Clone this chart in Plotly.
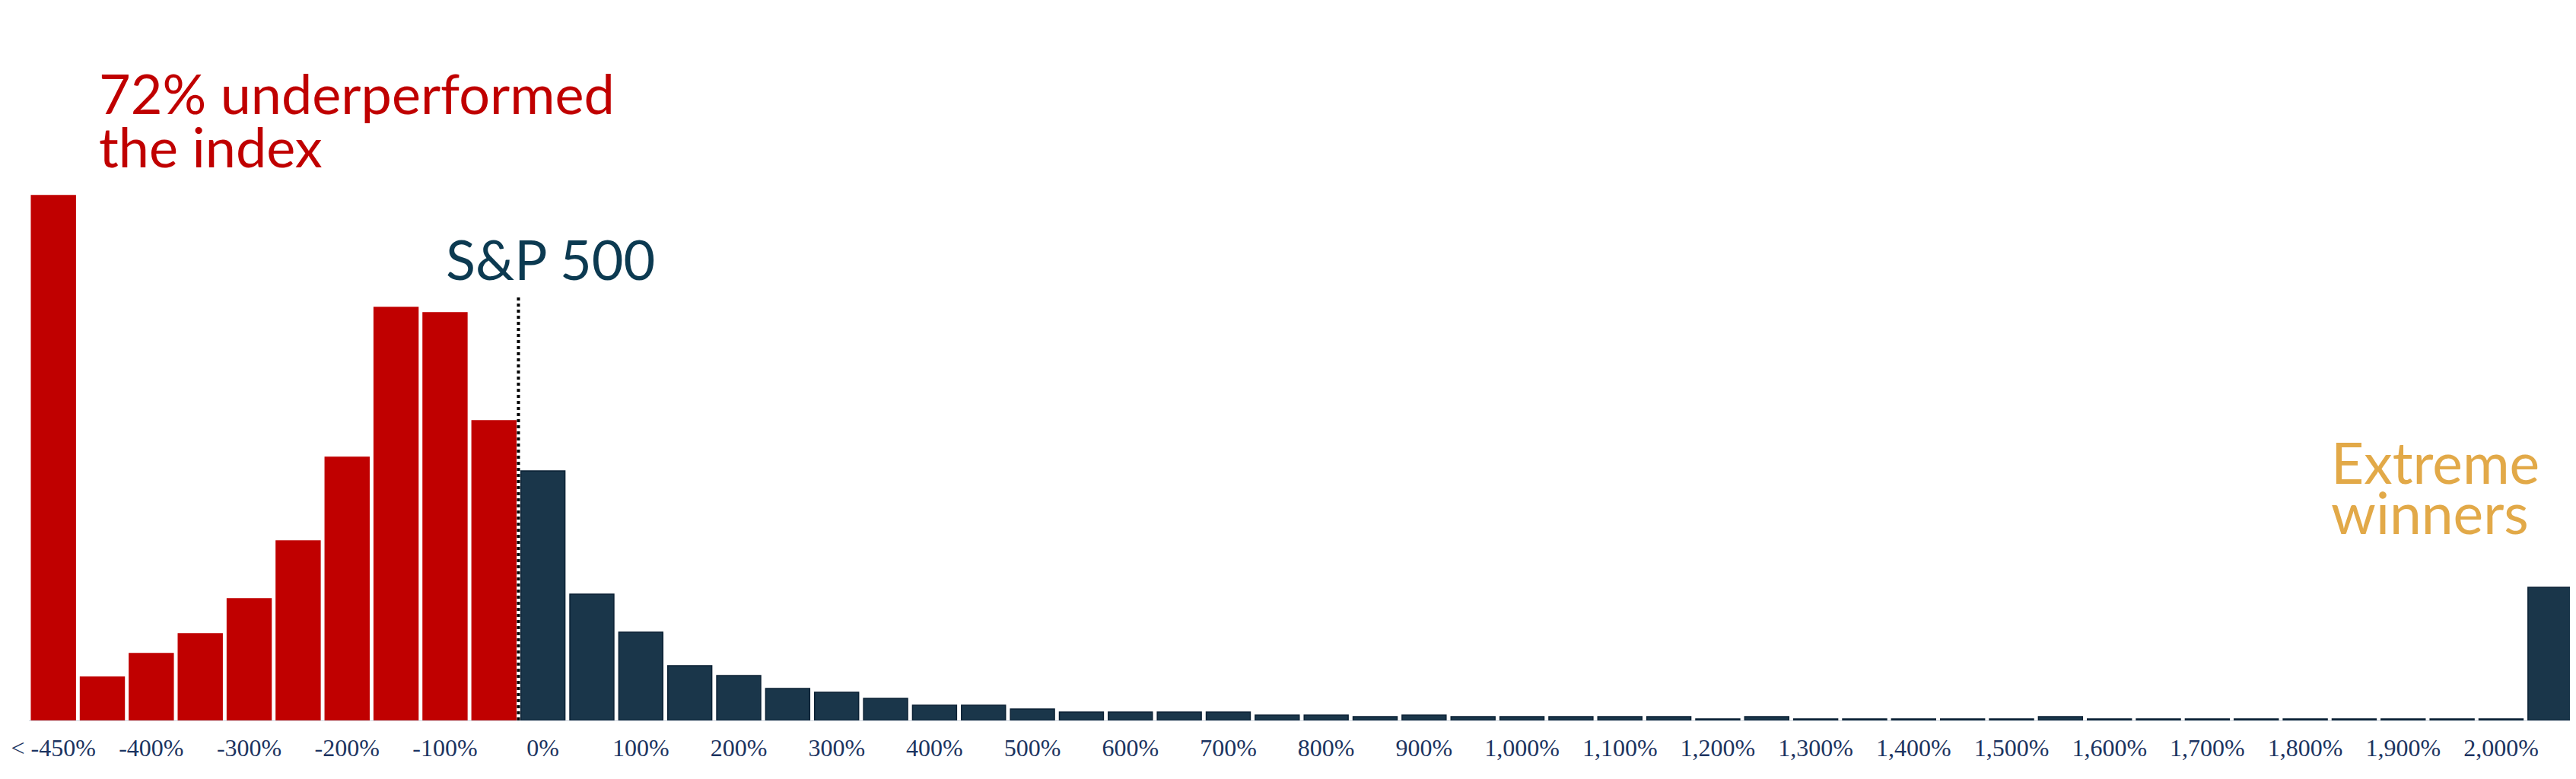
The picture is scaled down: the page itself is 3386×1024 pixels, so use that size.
import plotly.graph_objects as go

# histogram bins of 10-year excess return vs the S&P 500 (50% wide)
edges = list(range(-450, 2051, 50))
bins = ["< -450%"] + [f"{a:,}% to {b:,}%" for a, b in zip(edges[:-1], edges[1:])] + ["> 2,050%"]

# bar heights
counts = [690, 57, 88, 114, 160, 236, 346, 543, 536, 394,
          328, 166, 116, 72, 59, 42, 37, 29, 20, 20,
          15, 11, 11, 11, 11, 7, 7, 5, 7, 5,
          5, 5, 5, 5, 2, 5, 2, 2, 2, 2,
          2, 5, 2, 2, 2, 2, 2, 2, 2, 2,
          2, 175]

tick_bins = ["< -450%"] + [f"{a:,}% to {a + 50:,}%" for a in range(-400, 2001, 100)]
tick_labels = ["< -450%", "-400%", "-300%", "-200%", "-100%", "0%",
               "100%", "200%", "300%", "400%", "500%", "600%", "700%",
               "800%", "900%", "1,000%", "1,100%", "1,200%", "1,300%",
               "1,400%", "1,500%", "1,600%", "1,700%", "1,800%", "1,900%",
               "2,000%"]

RED = "#c00000"
NAVY = "#1a364a"
GOLD = "#e2a948"
TEAL = "#0c3a51"

zero_pos = bins.index("0% to 50%")
colors = [RED if i < zero_pos else NAVY for i in range(len(bins))]
line_colors = [RED if i < zero_pos else "#0b2134" for i in range(len(bins))]

fig = go.Figure()
fig.add_trace(go.Bar(
    x=bins, y=counts,
    marker=dict(color=colors, line=dict(color=line_colors, width=1.5)),
    hoverinfo="x+y",
))

# page is 3386x1024, the figure sits inside the 8px body margin
OFF = 8
W, H = 3386 - OFF, 1024 - OFF
L, R, T, B = 38 - OFF, 2, 0, 77
pw, ph = W - L - R, H - T - B


def px(x):
    return (x - L - OFF) / pw


def py(y):
    return (OFF + T + ph - y) / ph


def label(text, x, y, color, size=72):
    fig.add_annotation(text=text, x=px(x), y=py(y), xref="paper", yref="paper",
                       xanchor="left", yanchor="middle", showarrow=False,
                       font=dict(family="Lato", size=size, color=color))


label("72% underperformed", 128, 122, RED)
label("the index", 128, 192, RED)
label("S&P 500", 584, 340, TEAL)
label("Extreme", 3062, 607, GOLD, 75)
label("winners", 3062, 673, GOLD, 75)

# S&P 500 marker between the last negative and the first positive bin
fig.add_shape(type="line", xref="x", yref="y",
              x0=zero_pos - 0.5, x1=zero_pos - 0.5, y0=0, y1=560,
              line=dict(color="black", width=4, dash="dot"))

fig.update_layout(
    width=W, height=H,
    margin=dict(l=L, r=R, t=T, b=B, autoexpand=False),
    plot_bgcolor="white", paper_bgcolor="white",
    bargap=0.1,
    showlegend=False,
)
fig.update_xaxes(
    type="category",
    tickmode="array",
    tickvals=tick_bins,
    ticktext=tick_labels,
    tickangle=0,
    automargin=False,
    tickfont=dict(family="Liberation Serif", size=32, color="#1c3461"),
    ticks="outside", ticklen=8, tickcolor="rgba(0,0,0,0)",
    showgrid=False, zeroline=False,
    showline=True, linecolor="#d3dae3", linewidth=1,
)
fig.update_yaxes(range=[0, ph], visible=False)

fig.write_html("out.html")
